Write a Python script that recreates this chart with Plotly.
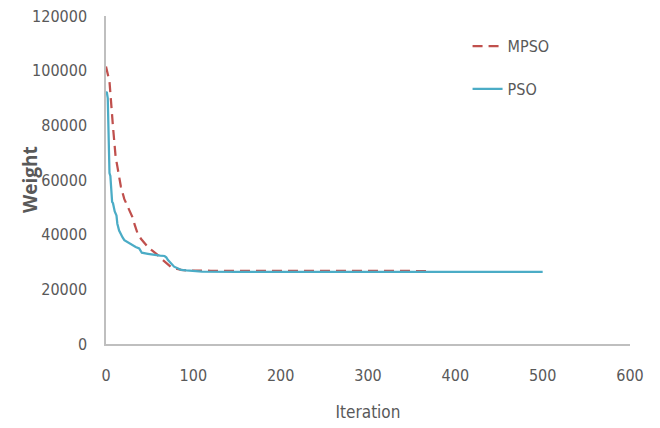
import plotly.graph_objects as go

# MPSO convergence (iteration, weight)
mpso_iter = [0, 2, 4, 8, 11, 13, 17, 21, 25, 30, 33, 36, 40, 44, 48, 52, 56, 59, 63, 67, 71, 74, 80, 86, 95, 105, 120, 150, 200, 250, 300, 340, 370]
mpso_weight = [101500, 99000, 96000, 79500, 68500, 65000, 57600, 53000, 50200, 46600, 43500, 40600, 38500, 36900, 35500, 34400, 33400, 32600, 31300, 30100, 29000, 28300, 27600, 27100, 26900, 26800, 26800, 26800, 26800, 26800, 26800, 26700, 26700]

# PSO convergence (iteration, weight)
pso_iter = [0, 1, 2, 3, 4, 5, 6, 7, 8, 10, 12, 13, 15, 17, 19, 21, 25, 29, 34, 38, 40, 41, 48, 55, 62, 67, 69, 71, 74, 78, 82, 86, 92, 97, 110, 150, 200, 250, 300, 350, 400, 450, 500]
pso_weight = [92300, 92000, 90000, 75000, 62500, 61500, 57000, 52000, 51500, 48500, 47000, 44000, 41500, 40000, 39000, 38000, 37200, 36200, 35500, 35000, 34200, 33400, 33000, 32600, 32300, 32200, 31700, 30700, 29500, 28300, 27700, 27100, 26900, 26800, 26500, 26400, 26400, 26400, 26400, 26400, 26400, 26400, 26400]

x_ticks = [0, 100, 200, 300, 400, 500, 600]
y_ticks = [0, 20000, 40000, 60000, 80000, 100000, 120000]
y_tick_labels = ["0", "20000", "40000", "60000", "80000", "100000", "120000"]

FONT = "DejaVu Sans Condensed, Liberation Sans Narrow, Open Sans, sans-serif"
GRAY = "#595959"

fig = go.Figure()
fig.add_trace(go.Scatter(
    x=mpso_iter, y=mpso_weight, mode="lines", name="MPSO",
    line=dict(color="#C0504D", width=2.25, dash="10px,6px"),
    legendgroup="a",
))
fig.add_trace(go.Scatter(
    x=pso_iter, y=pso_weight, mode="lines", name="PSO",
    line=dict(color="#4BACC6", width=2.25),
    legendgroup="b",
))

fig.update_layout(
    width=652, height=420,
    margin=dict(l=98, r=30, t=8, b=84, autoexpand=False),
    paper_bgcolor="white", plot_bgcolor="white",
    font=dict(family=FONT, color=GRAY, size=16),
    showlegend=True,
    legend=dict(x=0.69, y=0.96, xanchor="left", yanchor="top",
                tracegroupgap=19, font=dict(size=16, color=GRAY),
                bgcolor="rgba(0,0,0,0)"),
    xaxis=dict(
        range=[0, 600], tickvals=x_ticks, showgrid=False, zeroline=False,
        showline=True, linecolor="#BFBFBF", linewidth=1.5,
        ticks="", ticklabelstandoff=16, automargin=False,
        tickfont=dict(size=16, color=GRAY, family=FONT),
        title=dict(text="Iteration", font=dict(size=17, color=GRAY, family=FONT), standoff=22),
    ),
    yaxis=dict(
        range=[0, 120000], tickvals=y_ticks, ticktext=y_tick_labels,
        showgrid=False, zeroline=False,
        showline=True, linecolor="#BFBFBF", linewidth=1.5,
        ticks="", ticklabelstandoff=14, automargin=False,
        ticklabeloverflow="allow",
        tickfont=dict(size=16, color=GRAY, family=FONT),
    ),
    annotations=[dict(
        text="<b>Weight</b>", textangle=-90, showarrow=False,
        xref="paper", yref="paper", x=-0.145, y=0.5,
        xanchor="center", yanchor="middle",
        font=dict(size=19, color=GRAY, family="Open Sans, sans-serif"),
    )],
)

fig.write_html("out.html")
